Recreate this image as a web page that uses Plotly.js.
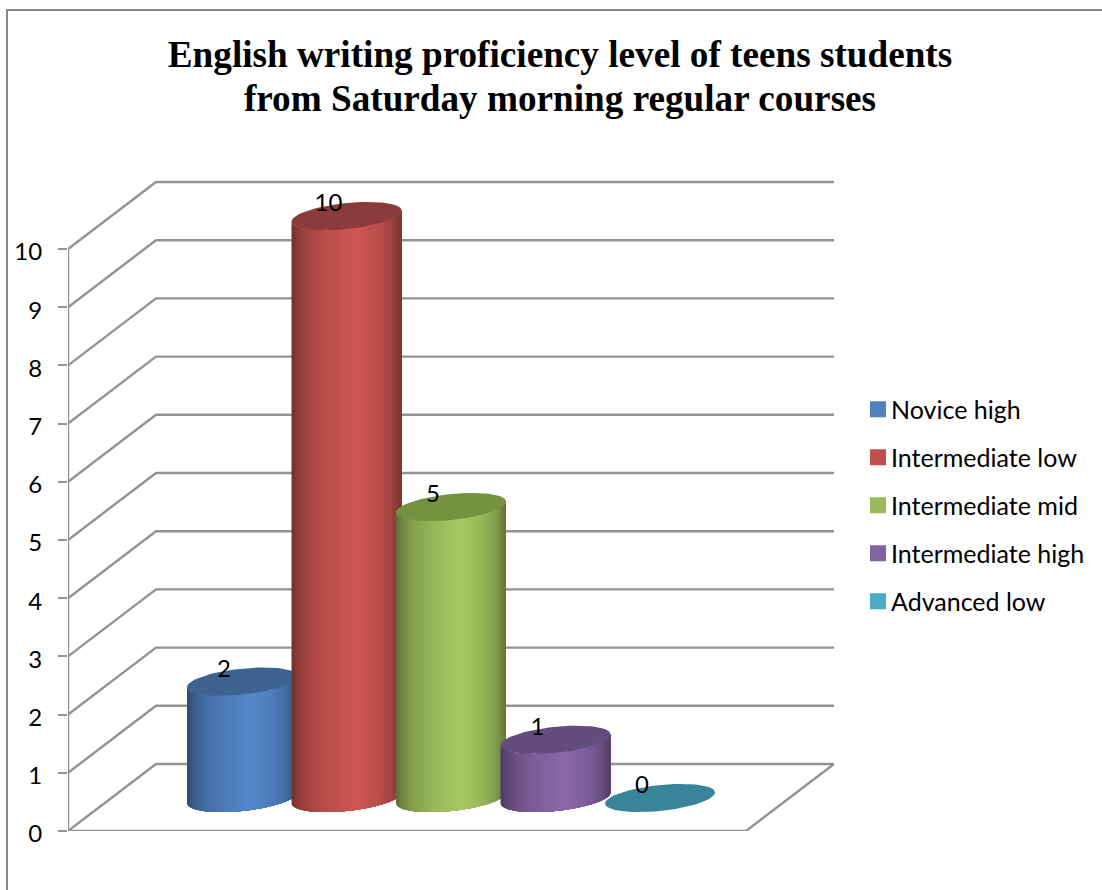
<!DOCTYPE html>
<html>
<head>
<meta charset="utf-8">
<script src="https://cdn.plot.ly/plotly-3.0.1.min.js"></script>
<style>html,body{margin:0;padding:0;background:#fff}#chart{width:1102px;height:890px}</style>
</head>
<body>
<div id="chart"></div>
<script>
// ---- chart values ----
const categories = ["Novice high", "Intermediate low", "Intermediate mid", "Intermediate high", "Advanced low"];
const values = [2, 10, 5, 1, 0];
const axisTicks = [0, 1, 2, 3, 4, 5, 6, 7, 8, 9, 10];
const titleText = "English writing proficiency level of teens students<br>from Saturday morning regular courses";

// ---- styles ----
const legendColors = ["#4F81BD", "#C0504D", "#9BBB59", "#8064A2", "#4BACC6"];
const sideRGB = [[84,136,203],[207,86,83],[168,200,97],[139,104,170],[75,172,198]];
const topColors = ["#3F6390", "#8B3C3A", "#76913F", "#634D7D", "#38859A"];
const ramp = [[0,.55],[.06,.68],[.16,.8],[.34,.91],[.58,1],[.78,.91],[.92,.76],[1,.58]];
const gridColor = "#939393";
const font = "Lato, Carlito, sans-serif";

// ---- scale of the oblique projection (px per data unit) ----
const W = 1102, H = 890;
const plotL = 68, plotR = 860, plotB = 831, plotT = 170;
const pxX = 104.5, pxY = 58.2;
const firstCx = 242;
const xOf = p => (p - firstCx) / pxX;             // pixel offset to x units
const depthX = 88 / pxX, depthY = 67 / pxY;       // shift front -> back wall
const frontLeft = xOf(plotL), frontRight = xOf(746), backRight = xOf(834);
const floorY = 33 / pxY;                          // cylinder base centre above 0
const rx = 55, ry = 13, tilt = 5.5;               // ellipse, in px

const traces = [];

// walls and floor
const gx = [], gy = [];
axisTicks.forEach(v => {
  gx.push(frontLeft, frontLeft + depthX, backRight, null);
  gy.push(v, v + depthY, v + depthY, null);
});
gx.push(frontLeft, frontLeft, null, frontLeft, frontRight, backRight);
gy.push(0, axisTicks[axisTicks.length - 1], null, 0, 0, depthY);
traces.push({x: gx, y: gy, mode: "lines", line: {color: gridColor, width: 2.4}, showlegend: false, hoverinfo: "skip", cliponaxis: false});

function shade(rgb, u) {
  let f = 1;
  for (let i = 0; i < ramp.length - 1; i++) {
    if (u >= ramp[i][0] && u <= ramp[i + 1][0]) {
      f = ramp[i][1] + (ramp[i + 1][1] - ramp[i][1]) * (u - ramp[i][0]) / (ramp[i + 1][0] - ramp[i][0]);
      break;
    }
  }
  return "rgb(" + rgb.map(c => Math.round(c * f)).join(",") + ")";
}

const ptX = (cat, t) => cat + rx * Math.cos(t) / pxX;
const ptY = (lvl, t) => lvl + (tilt * Math.cos(t) + ry * Math.sin(t)) / pxY;

categories.forEach((name, i) => {
  const base = floorY, top = floorY + values[i];
  // side of the cylinder: nested strips painted left to right
  if (values[i] > 0) {
    const strips = 36, arc = 40;
    for (let s = 0; s < strips; s++) {
      const u = s / strips;
      const t0 = 2 * Math.PI - Math.acos(2 * u - 1);
      const xs = [], ys = [];
      for (let k = 0; k <= arc; k++) {
        const t = t0 + (2 * Math.PI - t0) * k / arc;
        xs.push(ptX(i, t)); ys.push(ptY(base, t));
      }
      for (let k = arc; k >= 0; k--) {
        const t = t0 + (2 * Math.PI - t0) * k / arc;
        xs.push(ptX(i, t)); ys.push(ptY(top, t));
      }
      traces.push({x: xs, y: ys, mode: "lines", fill: "toself", fillcolor: shade(sideRGB[i], u + .5 / strips),
        line: {width: 0}, showlegend: false, hoverinfo: "skip"});
    }
  }
  // top cap
  const cx = [], cy = [];
  for (let k = 0; k <= 72; k++) {
    const t = 2 * Math.PI * k / 72;
    cx.push(ptX(i, t)); cy.push(ptY(top, t));
  }
  traces.push({x: cx, y: cy, mode: "lines", fill: "toself", fillcolor: topColors[i], line: {width: 0},
    showlegend: false, hoverinfo: "skip"});
});

// data labels
traces.push({
  x: values.map((v, i) => i - 18 / pxX),
  y: values.map(v => v + floorY + 11 / pxY),
  text: values.map(String), mode: "text", textposition: "middle center",
  textfont: {family: font, size: 24, color: "#000"}, showlegend: false, hoverinfo: "skip", cliponaxis: false
});

// legend entries
categories.forEach((name, i) => {
  traces.push({x: [null], y: [null], name: name, legendgroup: name, mode: "markers",
    marker: {symbol: "square", size: 16, color: legendColors[i]}});
});

const sx = p => (p - plotL) / (plotR - plotL);
const sy = p => (plotB - p) / (plotB - plotT);

const layout = {
  width: W, height: H,
  margin: {l: plotL, r: W - plotR, t: plotT, b: H - plotB, pad: 0},
  paper_bgcolor: "#fff", plot_bgcolor: "rgba(0,0,0,0)",
  title: {text: titleText, font: {family: "Liberation Serif, serif", size: 37.2, color: "#000", weight: "bold"},
    x: 560 / W, xanchor: "center", xref: "container", y: 1 - 67 / H, yref: "container", yanchor: "top"},
  xaxis: {range: [xOf(plotL), xOf(plotR)], visible: false, fixedrange: true},
  yaxis: {range: [0, (plotB - plotT) / pxY], tickmode: "array", tickvals: axisTicks,
    ticktext: axisTicks.map(String), ticks: "outside", ticklen: 9, tickwidth: 2, tickcolor: gridColor,
    ticklabelstandoff: 11, ticklabelshift: 3, showgrid: false, zeroline: false, showline: false,
    tickfont: {family: font, size: 24, color: "#000"}, fixedrange: true},
  legend: {x: sx(851), xanchor: "left", y: sy(386.5), yanchor: "top", traceorder: "grouped", tracegroupgap: 12.5,
    itemwidth: 30, font: {family: font, size: 25, color: "#000"}, bgcolor: "rgba(0,0,0,0)", itemclick: false, itemdoubleclick: false},
  shapes: [{type: "path", xref: "paper", yref: "paper",
    path: `M ${sx(7)} ${sy(890)} L ${sx(7)} ${sy(10)} L ${sx(1102)} ${sy(10)}`,
    line: {color: "#868686", width: 2}}],
  showlegend: true, hovermode: false
};

Plotly.newPlot("chart", traces, layout, {displayModeBar: false}).then(() => {
  // pull the legend swatches next to their labels
  document.querySelectorAll("#chart .legendsymbols").forEach(el => el.setAttribute("transform", "translate(7,0)"));
  // tighten the title's line spacing
  document.querySelectorAll("#chart .gtitle tspan.line").forEach((el, i) => { if (i > 0) el.setAttribute("dy", "1.17em"); });
});
</script>
</body>
</html>
